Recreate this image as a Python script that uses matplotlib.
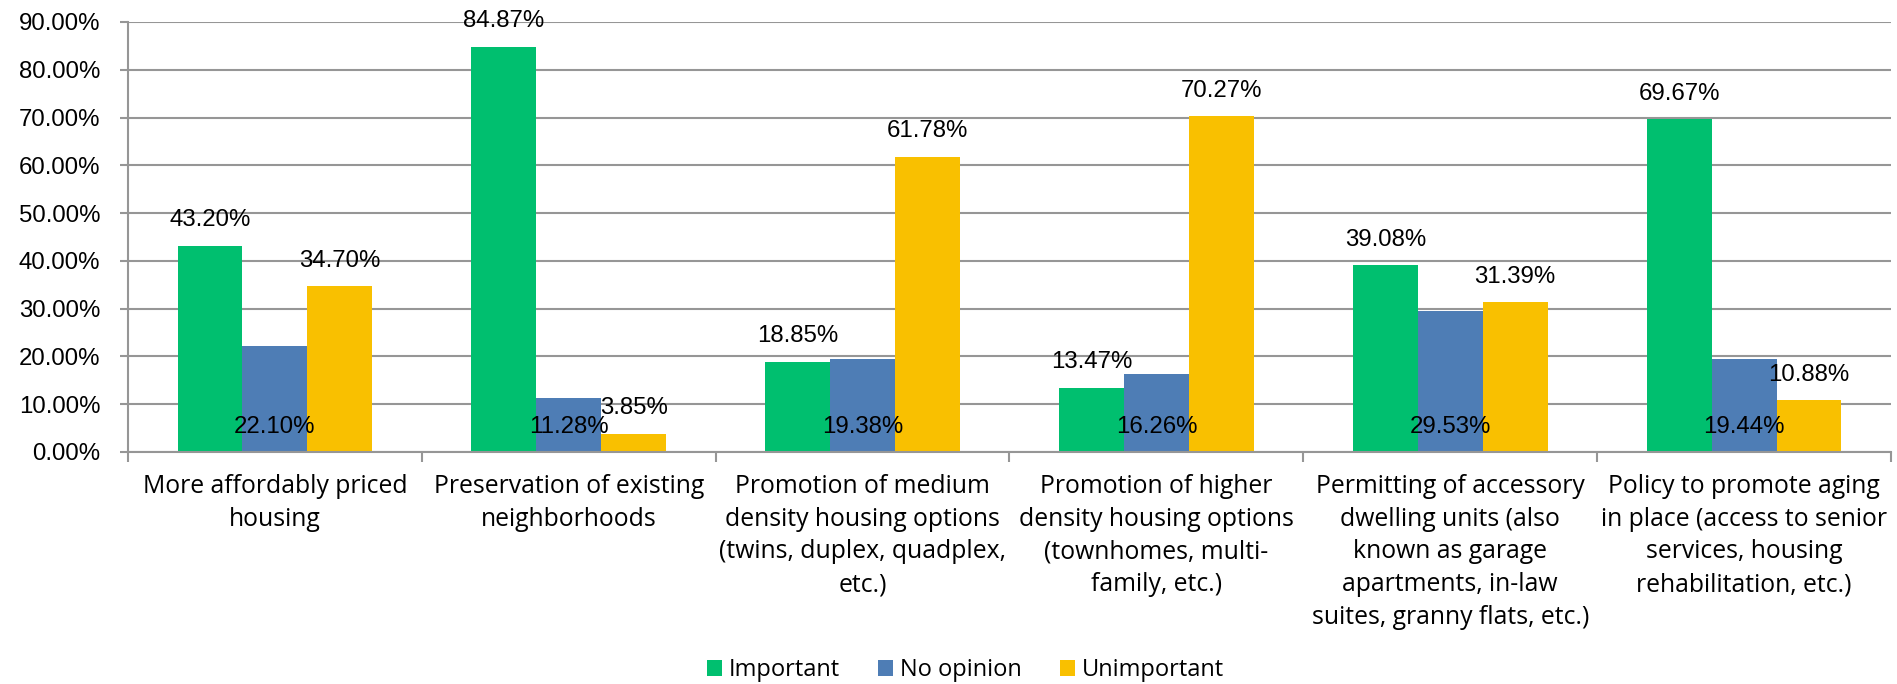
import numpy as np
import matplotlib
matplotlib.use("Agg")
import matplotlib.pyplot as plt
from matplotlib.ticker import PercentFormatter

# survey answers (percent)
categories = [
    "More affordably priced\nhousing",
    "Preservation of existing\nneighborhoods",
    "Promotion of medium\ndensity housing options\n(twins, duplex, quadplex,\netc.)",
    "Promotion of higher\ndensity housing options\n(townhomes, multi-\nfamily, etc.)",
    "Permitting of accessory\ndwelling units (also\nknown as garage\napartments, in-law\nsuites, granny flats, etc.)",
    "Policy to promote aging\nin place (access to senior\nservices, housing\nrehabilitation, etc.)",
]
important = [43.20, 84.87, 18.85, 13.47, 39.08, 69.67]
no_opinion = [22.10, 11.28, 19.38, 16.26, 29.53, 19.44]
unimportant = [34.70, 3.85, 61.78, 70.27, 31.39, 10.88]

series_names = ["Important", "No opinion", "Unimportant"]
colors = ["#00BF6F", "#4E7DB5", "#F9C000"]

num_font = "Liberation Sans"
cat_font = "Open Sans"
grid_col = "#969696"
num_size = 17.3

fig = plt.figure(figsize=(18.97, 6.84), dpi=100)
ax = fig.add_axes([128 / 1897, 232 / 684, (1891 - 128) / 1897, 430 / 684])

x = np.arange(len(categories))
w = 0.221
all_series = [important, no_opinion, unimportant]

for k, vals in enumerate(all_series):
    bars = ax.bar(x + (k - 1) * w, vals, w, color=colors[k], label=series_names[k], zorder=3)
    for b, v in zip(bars, vals):
        cx = b.get_x() + b.get_width() / 2
        base = 0 if k == 1 else v   # no opinion label sits at the bar base
        ax.annotate(f"{v:.2f}%", (cx, base), xytext=(0, 14), textcoords="offset points",
                    ha="center", va="baseline", fontsize=num_size, family=num_font, zorder=5)

ax.set_xlim(-0.5, len(categories) - 0.5)
ax.set_ylim(0, 90)
ax.set_yticks(np.arange(0, 91, 10))
ax.yaxis.set_major_formatter(PercentFormatter(decimals=2))
ax.yaxis.grid(True, color=grid_col, linewidth=1.5, zorder=0)

ax.set_xticks(x)
ax.set_xticklabels(categories, family=cat_font, fontsize=17.8, linespacing=1.4)
ax.set_xticks(np.arange(-0.5, len(categories), 1), minor=True)
ax.tick_params(axis="x", which="major", length=0, pad=16)
ax.tick_params(axis="x", which="minor", length=7, width=1.5, color=grid_col)
ax.tick_params(axis="y", length=6, width=1.5, color=grid_col, pad=14, labelsize=num_size)
for t in ax.get_yticklabels():
    t.set_family(num_font)

for s in ["top", "right"]:
    ax.spines[s].set_visible(False)
for s in ["left", "bottom"]:
    ax.spines[s].set_color(grid_col)
    ax.spines[s].set_linewidth(1.5)
    ax.spines[s].set_zorder(4)

fig.legend(loc="center", bbox_to_anchor=(0.509, 0.02), ncol=3, frameon=False,
           prop={"family": cat_font, "size": 17}, handlelength=0.65, handleheight=0.65,
           handletextpad=0.3, columnspacing=1.6)

fig.savefig("out.png", dpi=100)
